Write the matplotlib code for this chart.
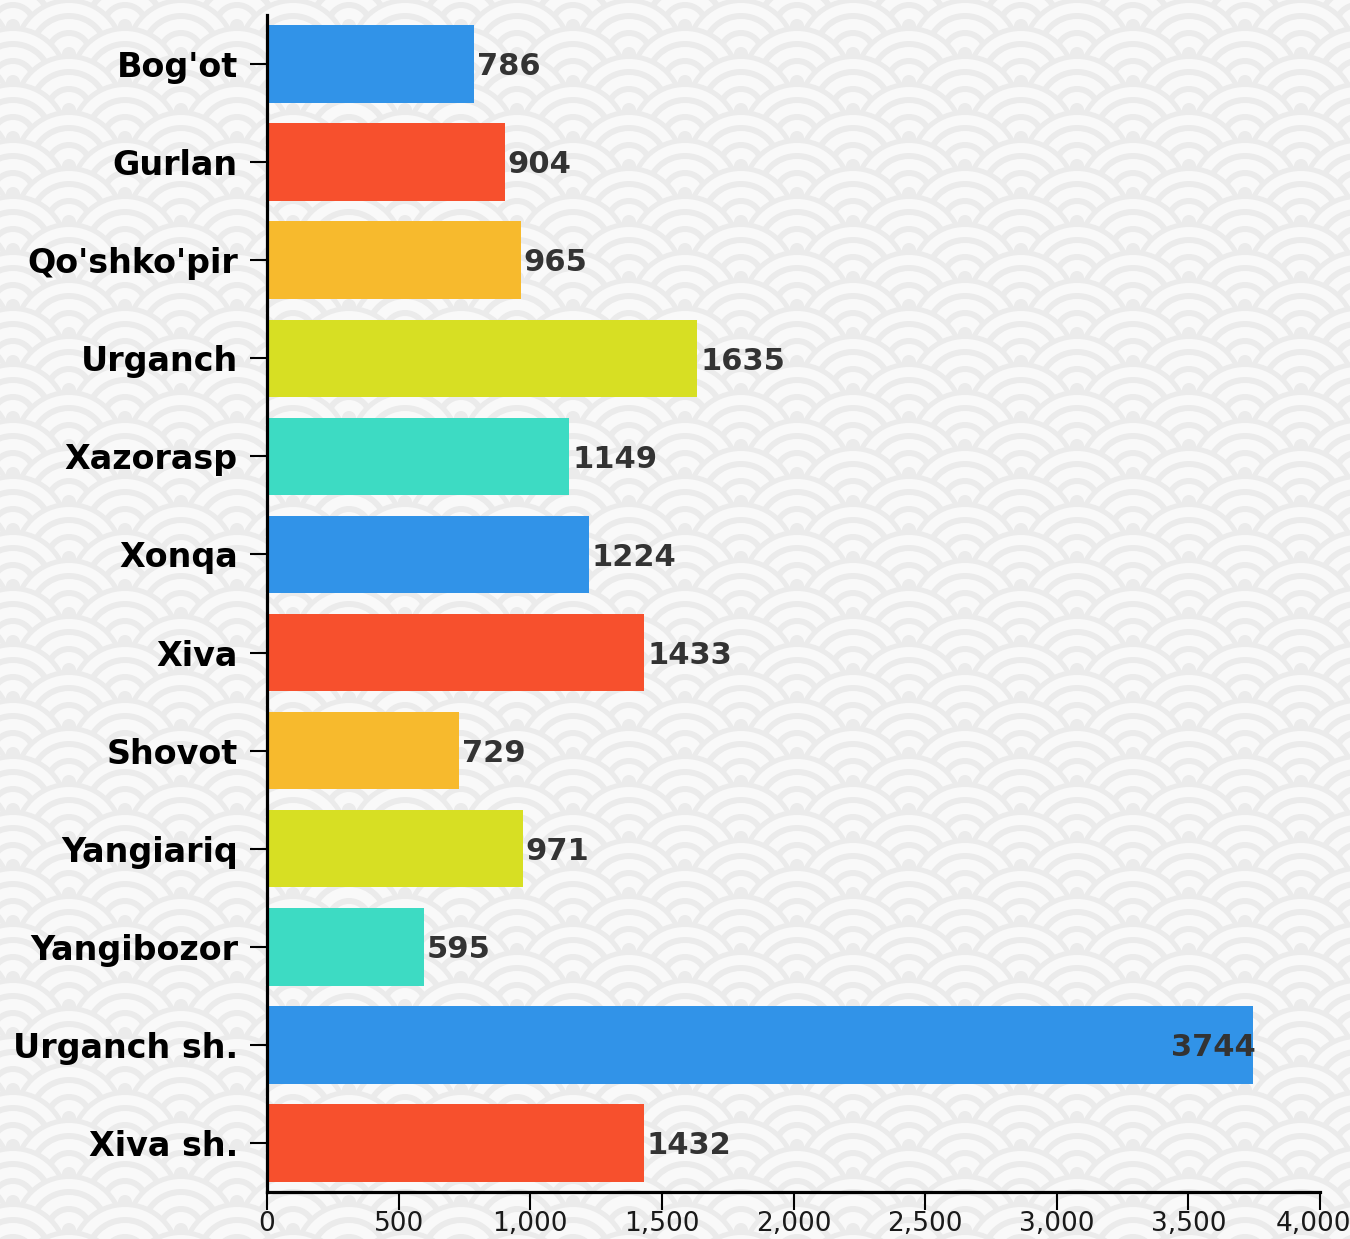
import matplotlib
matplotlib.use("Agg")
import matplotlib.pyplot as plt
import matplotlib.transforms as mtransforms
from matplotlib.patches import Circle
from matplotlib.collections import PatchCollection

# data
districts = ["Bog'ot", "Gurlan", "Qo'shko'pir", "Urganch", "Xazorasp", "Xonqa",
             "Xiva", "Shovot", "Yangiariq", "Yangibozor", "Urganch sh.", "Xiva sh."]
values = [786, 904, 965, 1635, 1149, 1224, 1433, 729, 971, 595, 3744, 1432]
palette = ["#3193E8", "#F7502D", "#F7BA2D", "#D7DF23", "#3DDBC3"]
xticks = [0, 500, 1000, 1500, 2000, 2500, 3000, 3500, 4000]

W, H = 1350, 1239
fig = plt.figure(figsize=(W / 100, H / 100), dpi=100)
fig.patch.set_facecolor("#f9f9f9")

# seigaiha wave background
bg = fig.add_axes([0, 0, 1, 1], zorder=-1)
bg.set_xlim(0, W)
bg.set_ylim(H, 0)
bg.axis("off")
R = 56
light, grey = "#f9f9f9", "#ebebeb"
bands = [(56, grey), (51, light), (41, grey), (35, light),
         (24, grey), (18, light), (7, grey)]
patches, cols = [], []
row = 0
cy = 250 - 14 * R / 2
while cy < H + 2 * R:
    off = 13 if row % 2 == 0 else 13 + R
    cx = off - 2 * R
    while cx < W + 2 * R:
        for r, c in bands:
            patches.append(Circle((cx, cy), r))
            cols.append(c)
        cx += 2 * R
    cy += R / 2
    row += 1
bg.add_collection(PatchCollection(patches, facecolors=cols, edgecolors="none"))

# bar chart
ax = fig.add_axes([267 / W, 1 - 1192 / H, (1320 - 267) / W, (1192 - 15) / H])
ax.patch.set_alpha(0)
ypos = list(range(len(districts)))
colors = [palette[i % len(palette)] for i in ypos]
ax.barh(ypos, values, height=0.79, color=colors, zorder=2)
ax.set_xlim(0, 4000)
ax.set_ylim(len(districts) - 0.5, -0.5)

for y, v in zip(ypos, values):
    if v > 3500:
        ax.annotate(str(v), (v, y), xytext=(2, -2), textcoords="offset points",
                    ha="right", va="center", fontsize=22, fontweight="bold", color="#333333")
    else:
        ax.annotate(str(v), (v, y), xytext=(2, -2), textcoords="offset points",
                    ha="left", va="center", fontsize=22, fontweight="bold", color="#333333")

ax.set_yticks(ypos)
ax.set_yticklabels(districts, fontsize=24, fontweight="bold", color="black")
ax.set_xticks(xticks)
ax.set_xticklabels([f"{t:,}" for t in xticks], fontsize=19, color="#1a1a1a")
ax.tick_params(axis="y", length=12, width=1.5, pad=9)
ax.tick_params(axis="x", length=13, width=1.5, pad=1)

# nudge the last x label so it stays inside the canvas
last = ax.get_xticklabels()[-1]
last.set_transform(last.get_transform() +
                   mtransforms.ScaledTranslation(-7 / 100, 0, fig.dpi_scale_trans))

for s in ["top", "right"]:
    ax.spines[s].set_visible(False)
for s in ["left", "bottom"]:
    ax.spines[s].set_linewidth(2.3)
    ax.spines[s].set_color("black")

fig.savefig("out.png", dpi=100)
